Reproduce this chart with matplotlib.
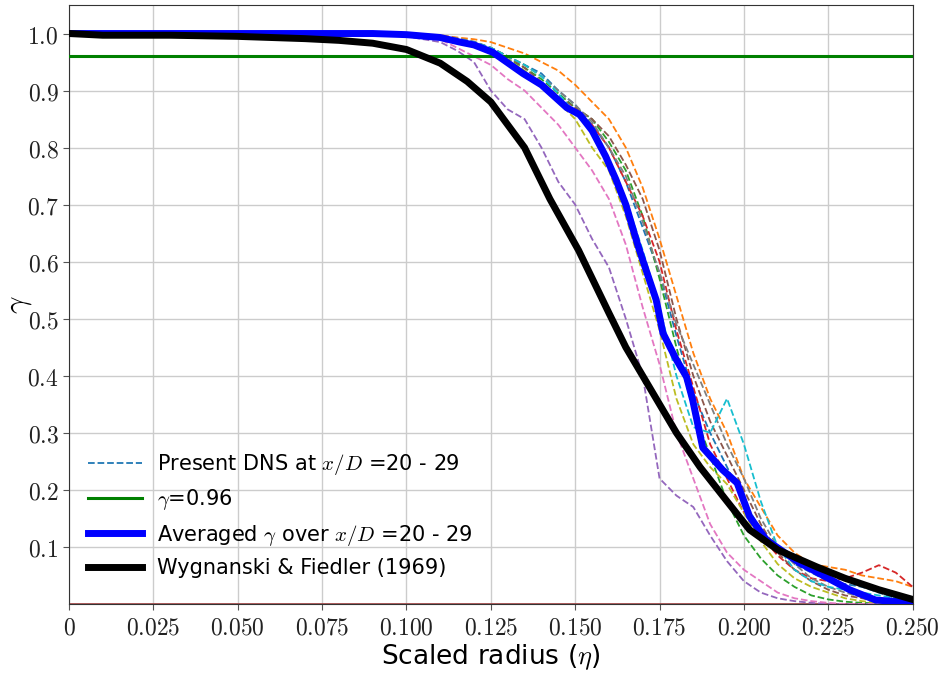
import matplotlib
matplotlib.use("Agg")
import matplotlib.pyplot as plt

plt.rcParams['mathtext.fontset'] = 'cm'
plt.rcParams['font.family'] = ['DejaVu Sans']

# Wygnanski & Fiedler (1969)
wf_eta = [0.0, 0.01, 0.03, 0.05, 0.07, 0.08, 0.09, 0.10, 0.11, 0.118, 0.125, 0.135,
          0.1425, 0.151, 0.16, 0.165, 0.171, 0.18, 0.187, 0.195, 0.2017, 0.21,
          0.2216, 0.23, 0.24, 0.25]
wf_gamma = [1.0, 0.997, 0.997, 0.995, 0.991, 0.988, 0.983, 0.972, 0.948, 0.916, 0.88, 0.80,
            0.71, 0.62, 0.51, 0.45, 0.39, 0.30, 0.24, 0.18, 0.13, 0.095,
            0.065, 0.045, 0.025, 0.008]

# Averaged gamma over x/D = 20 - 29
avg_eta = [0.0, 0.05, 0.09, 0.10, 0.11, 0.1158, 0.12, 0.1256, 0.1345, 0.140, 0.1475, 0.1513,
           0.155, 0.159, 0.162, 0.165, 0.1685, 0.170, 0.174, 0.176, 0.180, 0.183, 0.1848,
           0.1878, 0.1937, 0.198, 0.2017, 0.2067, 0.2165, 0.225, 0.2313, 0.239, 0.25]
avg_gamma = [1.0, 1.0, 1.0, 0.998, 0.993, 0.985, 0.98, 0.967, 0.93, 0.91, 0.87, 0.858,
             0.83, 0.785, 0.745, 0.70, 0.63, 0.603, 0.533, 0.475, 0.428, 0.398, 0.358,
             0.274, 0.235, 0.212, 0.153, 0.112, 0.072, 0.045, 0.025, 0.007, 0.002]

# Present DNS profiles at x/D = 20 - 29
dns_eta = [0.0, 0.05, 0.09, 0.10, 0.11, 0.115, 0.12, 0.125, 0.13, 0.135, 0.14, 0.145, 0.15,
           0.155, 0.16, 0.165, 0.17, 0.175, 0.18, 0.185, 0.19, 0.195, 0.20, 0.205, 0.21,
           0.215, 0.22, 0.225, 0.23, 0.235, 0.24, 0.245, 0.25]
dns_xd20 = [1, 1, 1, 0.998, 0.995, 0.99, 0.985, 0.975, 0.96, 0.945, 0.93, 0.90, 0.875, 0.84, 0.80,
            0.74, 0.66, 0.58, 0.47, 0.37, 0.30, 0.24, 0.18, 0.13, 0.10, 0.07, 0.055, 0.04, 0.035,
            0.03, 0.02, 0.01, 0.005]
dns_xd21 = [1, 1, 1, 1, 0.997, 0.993, 0.99, 0.985, 0.975, 0.965, 0.95, 0.935, 0.91, 0.88, 0.85,
            0.80, 0.73, 0.64, 0.54, 0.44, 0.36, 0.30, 0.22, 0.17, 0.12, 0.09, 0.07, 0.065, 0.06,
            0.05, 0.045, 0.04, 0.03]
dns_xd22 = [1, 1, 1, 0.998, 0.994, 0.99, 0.98, 0.97, 0.955, 0.94, 0.92, 0.895, 0.87, 0.85, 0.81,
            0.76, 0.68, 0.57, 0.45, 0.34, 0.26, 0.18, 0.12, 0.08, 0.05, 0.03, 0.015, 0.008, 0.004,
            0.002, 0.001, 0, 0]
dns_xd23 = [1, 1, 1, 0.997, 0.993, 0.987, 0.98, 0.965, 0.95, 0.93, 0.91, 0.885, 0.86, 0.84, 0.80,
            0.74, 0.68, 0.60, 0.48, 0.38, 0.28, 0.22, 0.16, 0.12, 0.085, 0.06, 0.045, 0.04, 0.045,
            0.055, 0.068, 0.055, 0.03]
dns_xd24 = [1, 1, 1, 0.995, 0.985, 0.97, 0.95, 0.90, 0.867, 0.85, 0.80, 0.74, 0.70, 0.64, 0.59,
            0.50, 0.40, 0.22, 0.19, 0.17, 0.12, 0.075, 0.04, 0.02, 0.01, 0.005, 0.002, 0, 0,
            0, 0, 0, 0]
dns_xd25 = [1, 1, 1, 0.998, 0.995, 0.99, 0.985, 0.975, 0.96, 0.94, 0.915, 0.89, 0.87, 0.85, 0.82,
            0.77, 0.71, 0.62, 0.50, 0.40, 0.32, 0.26, 0.20, 0.14, 0.09, 0.06, 0.04, 0.025, 0.015,
            0.01, 0.005, 0.002, 0]
dns_xd26 = [1, 1, 1, 0.997, 0.99, 0.975, 0.96, 0.945, 0.92, 0.90, 0.87, 0.84, 0.80, 0.76, 0.71,
            0.63, 0.52, 0.42, 0.30, 0.22, 0.14, 0.09, 0.06, 0.04, 0.02, 0.01, 0.005, 0.002, 0,
            0, 0, 0, 0]
dns_xd27 = [1, 1, 1, 0.999, 0.996, 0.992, 0.986, 0.975, 0.96, 0.945, 0.925, 0.90, 0.875, 0.845,
            0.80, 0.75, 0.67, 0.58, 0.49, 0.42, 0.35, 0.28, 0.22, 0.15, 0.10, 0.07, 0.045, 0.03,
            0.02, 0.012, 0.006, 0.003, 0]
dns_xd28 = [1, 1, 1, 0.998, 0.994, 0.988, 0.98, 0.97, 0.955, 0.935, 0.91, 0.88, 0.85, 0.80, 0.76,
            0.68, 0.58, 0.48, 0.36, 0.28, 0.24, 0.21, 0.16, 0.11, 0.07, 0.045, 0.03, 0.02, 0.01,
            0.005, 0.002, 0, 0]
dns_xd29 = [1, 1, 1, 0.999, 0.996, 0.99, 0.985, 0.975, 0.96, 0.945, 0.925, 0.895, 0.86, 0.83,
            0.78, 0.71, 0.62, 0.52, 0.40, 0.31, 0.30, 0.36, 0.28, 0.18, 0.10, 0.06, 0.04, 0.03,
            0.025, 0.02, 0.015, 0.01, 0.005]
dns_profiles = [dns_xd20, dns_xd21, dns_xd22, dns_xd23, dns_xd24,
                dns_xd25, dns_xd26, dns_xd27, dns_xd28, dns_xd29]

gamma_threshold = 0.96

x_ticks = [0, 0.025, 0.05, 0.075, 0.1, 0.125, 0.15, 0.175, 0.2, 0.225, 0.25]
x_tick_labels = ["0", "0.025", "0.050", "0.075", "0.100", "0.125", "0.150", "0.175",
                 "0.200", "0.225", "0.250"]
y_ticks = [0.1, 0.2, 0.3, 0.4, 0.5, 0.6, 0.7, 0.8, 0.9, 1.0]
y_tick_labels = ["0.1", "0.2", "0.3", "0.4", "0.5", "0.6", "0.7", "0.8", "0.9", "1.0"]

fig = plt.figure(figsize=(9.43, 6.75), dpi=100)
ax = fig.add_axes([0.0732, 0.1052, 0.8946, 0.8874])

colors = plt.rcParams['axes.prop_cycle'].by_key()['color']
for i, prof in enumerate(dns_profiles):
    ax.plot(dns_eta, prof, linestyle='--', lw=1.3, color=colors[i % len(colors)],
            label=r'Present DNS at $x/D$ =20 - 29' if i == 0 else None, zorder=2)

ax.axhline(0, color='#a04040', lw=1.2, zorder=1)
ax.axhline(gamma_threshold, color='green', lw=2.2, label=r'$\gamma$=0.96', zorder=3)
ax.plot(avg_eta, avg_gamma, color='blue', lw=5, label=r'Averaged $\gamma$ over $x/D$ =20 - 29', zorder=4)
ax.plot(wf_eta, wf_gamma, color='black', lw=5, label='Wygnanski & Fiedler (1969)', zorder=5)

ax.set_xlim(0, 0.25)
ax.set_ylim(0, 1.05)
ax.set_xticks(x_ticks)
ax.set_xticklabels(["$%s$" % t for t in x_tick_labels])
ax.set_yticks(y_ticks)
ax.set_yticklabels(["$%s$" % t for t in y_tick_labels])
ax.tick_params(axis='both', labelsize=17, length=4, color='#555555', labelcolor='#222222')
ax.tick_params(axis='x', pad=4)
ax.grid(True, color='#cccccc', lw=1)
ax.set_axisbelow(True)
for s in ax.spines.values():
    s.set_color('#333333')

ax.set_xlabel(r'Scaled radius ($\eta$)', fontsize=19, labelpad=2)
ax.set_ylabel(r'$\gamma$', fontsize=22)
ax.yaxis.set_label_coords(-0.042, 0.5)

leg = ax.legend(loc='lower left', frameon=False, fontsize=15, handlelength=2.6,
                handletextpad=0.7, bbox_to_anchor=(0.0, 0.012), labelspacing=0.5)

fig.savefig('out.png', dpi=100)
